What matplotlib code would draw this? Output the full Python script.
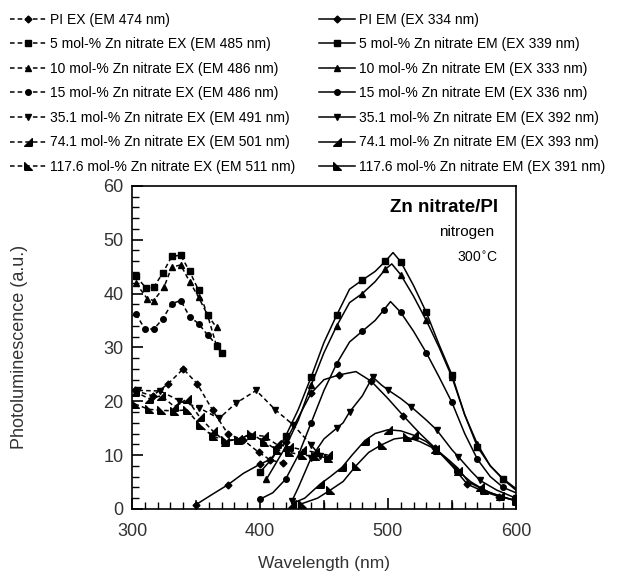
import numpy as np
import matplotlib
matplotlib.use("Agg")
import matplotlib.pyplot as plt
from matplotlib.ticker import MultipleLocator, FixedLocator

plt.rcParams["font.family"] = ["Liberation Sans", "DejaVu Sans"]

# ── Excitation spectra (dashed) ───────────────────────────────────────
pi_ex_x = [302, 316, 328, 340, 351, 363, 375, 387, 399, 408, 418]
pi_ex_y = [22.0, 21.0, 23.2, 26.0, 23.2, 18.3, 13.9, 12.8, 10.5, 9.1, 8.5]

zn5_ex_x = [303, 311, 317, 324, 331, 338, 345, 352, 359, 366, 370]
zn5_ex_y = [43.2, 41.0, 41.2, 43.8, 46.9, 47.1, 44.1, 40.6, 36.0, 30.3, 28.9]

zn10_ex_x = [303, 312, 317, 325, 331, 338, 345, 352, 359, 366]
zn10_ex_y = [41.9, 39.0, 38.7, 41.2, 44.9, 45.3, 42.2, 39.3, 36.0, 33.7]

zn15_ex_x = [303, 310, 317, 324, 331, 338, 345, 352, 359, 366]
zn15_ex_y = [36.2, 33.4, 33.4, 35.3, 38.1, 38.7, 35.7, 34.4, 32.3, 30.5]

zn35_ex_x = [305, 322, 337, 352, 368, 381, 397, 412, 426, 440, 447]
zn35_ex_y = [22.0, 21.9, 20.1, 18.8, 16.8, 19.6, 22.0, 18.4, 15.6, 11.9, 9.8]

zn74_ex_x = [302, 313, 323, 333, 343, 353, 363, 373, 383, 393, 403, 413, 423, 433, 443, 453]
zn74_ex_y = [21.8, 20.5, 21.0, 19.0, 20.4, 17.0, 14.5, 12.5, 13.0, 13.8, 13.5, 12.0, 11.5, 11.0, 10.5, 10.0]

zn117_ex_x = [302, 313, 323, 333, 343, 353, 363, 373, 383, 393, 403, 413, 423, 433, 443, 453]
zn117_ex_y = [19.5, 18.5, 18.3, 18.2, 18.4, 15.5, 13.5, 12.8, 12.8, 14.0, 12.5, 11.0, 10.5, 10.0, 9.8, 9.5]

# ── Emission spectra (solid) ──────────────────────────────────────────
pi_em_x = [350, 362, 375, 387, 400, 408, 420, 430, 440, 450, 462, 475, 487, 500, 512, 525, 537, 550, 562, 575, 587, 600]
pi_em_y = [0.8, 2.6, 4.5, 6.6, 8.3, 9.2, 12.5, 17.0, 21.5, 24.0, 24.9, 25.5, 23.7, 20.5, 17.3, 14.0, 11.3, 8.0, 4.6, 3.2, 2.3, 1.6]

zn5_em_x = [400, 410, 420, 430, 440, 450, 460, 470, 480, 490, 498, 504, 510, 520, 530, 540, 550, 560, 570, 580, 590, 600]
zn5_em_y = [6.8, 9.5, 13.5, 18.5, 24.5, 30.9, 36.0, 40.8, 42.5, 44.1, 46.0, 47.6, 45.9, 41.5, 36.5, 30.5, 24.9, 17.5, 11.5, 8.0, 5.6, 3.8]

zn10_em_x = [405, 410, 420, 430, 440, 450, 460, 470, 480, 490, 498, 503, 510, 520, 530, 540, 550, 560, 570, 580, 590, 600]
zn10_em_y = [5.5, 7.5, 11.5, 16.5, 23.0, 29.0, 34.0, 38.3, 40.0, 42.2, 44.5, 45.5, 43.5, 39.5, 35.0, 30.0, 24.5, 17.5, 12.0, 8.0, 5.5, 3.5]

zn15_em_x = [400, 410, 420, 430, 440, 450, 460, 470, 480, 490, 497, 502, 510, 520, 530, 540, 550, 560, 570, 580, 590, 600]
zn15_em_y = [1.8, 3.0, 5.5, 10.0, 16.0, 22.0, 27.0, 31.0, 33.0, 35.0, 37.0, 38.5, 36.5, 33.0, 29.0, 24.5, 19.8, 14.0, 9.2, 6.0, 4.0, 3.0]

zn35_em_x = [425, 430, 440, 450, 460, 465, 470, 480, 488, 495, 500, 510, 518, 530, 538, 550, 555, 565, 572, 585, 600]
zn35_em_y = [1.5, 4.0, 9.5, 13.0, 15.0, 16.0, 18.0, 21.0, 24.5, 23.0, 22.1, 20.5, 19.0, 16.5, 14.7, 11.0, 9.7, 7.0, 5.3, 3.5, 2.0]

zn74_em_x = [425, 435, 447, 455, 464, 472, 482, 490, 500, 510, 520, 530, 537, 545, 555, 565, 572, 580, 588, 600]
zn74_em_y = [1.0, 2.0, 4.6, 6.0, 7.7, 10.0, 12.7, 14.0, 14.7, 14.5, 13.7, 12.5, 11.1, 9.5, 7.0, 5.0, 4.0, 3.0, 2.4, 1.5]

zn117_em_x = [433, 445, 455, 465, 475, 485, 495, 505, 515, 525, 538, 548, 555, 563, 575, 588, 600]
zn117_em_y = [1.0, 2.0, 3.5, 5.1, 8.0, 10.5, 11.9, 13.0, 13.3, 12.5, 11.0, 9.0, 7.5, 5.0, 3.5, 2.3, 1.5]

ex_labels = ["PI EX (EM 474 nm)",
             "5 mol-% Zn nitrate EX (EM 485 nm)",
             "10 mol-% Zn nitrate EX (EM 486 nm)",
             "15 mol-% Zn nitrate EX (EM 486 nm)",
             "35.1 mol-% Zn nitrate EX (EM 491 nm)",
             "74.1 mol-% Zn nitrate EX (EM 501 nm)",
             "117.6 mol-% Zn nitrate EX (EM 511 nm)"]
em_labels = ["PI EM (EX 334 nm)",
             "5 mol-% Zn nitrate EM (EX 339 nm)",
             "10 mol-% Zn nitrate EM (EX 333 nm)",
             "15 mol-% Zn nitrate EM (EX 336 nm)",
             "35.1 mol-% Zn nitrate EM (EX 392 nm)",
             "74.1 mol-% Zn nitrate EM (EX 393 nm)",
             "117.6 mol-% Zn nitrate EM (EX 391 nm)"]

# half-triangle markers
tri_br = [(1, -1), (1, 1), (-1, -1), (1, -1)]
tri_bl = [(-1, -1), (-1, 1), (1, -1), (-1, -1)]
markers = ["D", "s", "^", "o", "v", tri_br, tri_bl]
msizes = [3.5, 4, 4.5, 4, 4.5, 5.5, 5.5]

ex_data = [(pi_ex_x, pi_ex_y), (zn5_ex_x, zn5_ex_y), (zn10_ex_x, zn10_ex_y),
           (zn15_ex_x, zn15_ex_y), (zn35_ex_x, zn35_ex_y),
           (zn74_ex_x, zn74_ex_y), (zn117_ex_x, zn117_ex_y)]
em_data = [(pi_em_x, pi_em_y), (zn5_em_x, zn5_em_y), (zn10_em_x, zn10_em_y),
           (zn15_em_x, zn15_em_y), (zn35_em_x, zn35_em_y),
           (zn74_em_x, zn74_em_y), (zn117_em_x, zn117_em_y)]

fig = plt.figure(figsize=(6.23, 5.77), dpi=100)
ax = fig.add_axes([0.212, 0.118, 0.616, 0.560])

handles = []
for (x, y), m, ms, lab in zip(ex_data, markers, msizes, ex_labels):
    h, = ax.plot(x, y, color="black", linestyle=(0, (3, 2)), linewidth=1.1,
                 marker=m, markersize=ms, label=lab)
    handles.append(h)
for (x, y), m, ms, lab in zip(em_data, markers, msizes, em_labels):
    h, = ax.plot(x, y, color="black", linestyle="-", linewidth=1.1,
                 marker=m, markersize=ms, markevery=2, label=lab)
    handles.append(h)

ax.set_xlim(300, 600)
ax.set_ylim(0, 60)
ax.xaxis.set_major_locator(FixedLocator([300, 400, 500, 600]))
ax.xaxis.set_minor_locator(MultipleLocator(10))
ax.yaxis.set_major_locator(MultipleLocator(10))
ax.yaxis.set_minor_locator(MultipleLocator(2))
ax.tick_params(which="both", direction="in", top=False, right=False,
               labelsize=13, labelcolor="#333333")
ax.tick_params(which="major", length=8, width=1.2)
ax.tick_params(axis="x", which="major", pad=10)
ax.tick_params(axis="y", which="major", pad=6)
ax.tick_params(which="minor", length=5, width=1.0)
# taller ticks at the half-hundreds
for xv in [350, 450, 550]:
    ax.plot([xv, xv], [0, 1.5], color="black", linewidth=1.2, clip_on=False)
for sp in ax.spines.values():
    sp.set_linewidth(1.2)

ax.set_xlabel("Wavelength (nm)", fontsize=12.5, color="#333333")
ax.xaxis.set_label_coords(0.5, -0.146)
ax.set_ylabel("Photoluminescence (a.u.)", fontsize=13, color="#333333")
ax.yaxis.set_label_coords(-0.271, 0.5)

ax.text(0.955, 0.932, "Zn nitrate/PI", transform=ax.transAxes, ha="right",
        va="center", fontsize=13.5, fontweight="bold")
ax.text(0.943, 0.858, "nitrogen", transform=ax.transAxes, ha="right",
        va="center", fontsize=11)
ax.text(0.955, 0.777, "300$^{\\circ}$C", transform=ax.transAxes, ha="right",
        va="center", fontsize=10)

fig.legend(handles=handles, ncol=2, loc="upper left",
           bbox_to_anchor=(0.0, 0.995), frameon=False, fontsize=10,
           handlelength=2.6, handletextpad=0.3, columnspacing=1.7,
           labelspacing=0.76, borderaxespad=0.3)

fig.savefig("out.png", dpi=100)
